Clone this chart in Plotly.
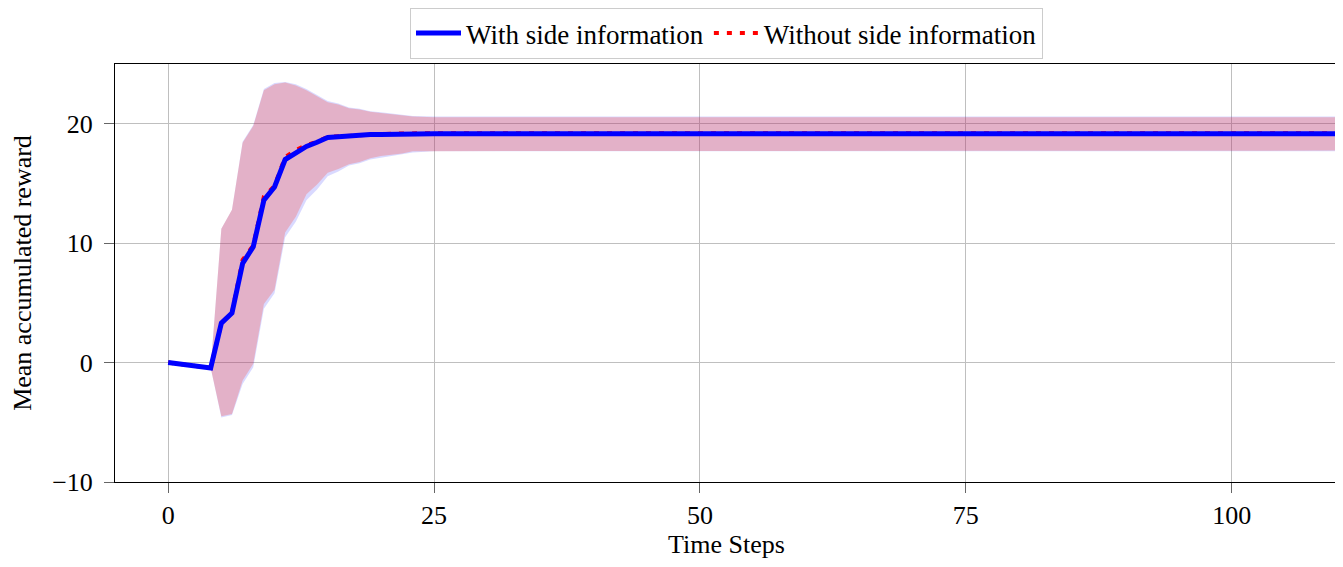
import plotly.graph_objects as go

# ---- data ----
time_steps = [0, 4, 5, 6, 7, 8, 9, 10, 11, 12, 13, 14, 15, 16, 17, 18, 19, 20, 21, 22, 23, 25, 30, 40, 50, 60, 70, 80, 90, 100, 110]

mean_with = [0, -0.45, 3.3, 4.15, 8.3, 9.7, 13.6, 14.7, 17.0, 17.6, 18.1, 18.45, 18.85, 18.9, 19.0, 19.05, 19.1, 19.1, 19.12, 19.14, 19.15, 19.15, 19.15, 19.15, 19.15, 19.15, 19.15, 19.15, 19.15, 19.15, 19.15]
upper_with = [0, -0.45, 11.2, 12.8, 18.5, 19.9, 22.9, 23.4, 23.5, 23.3, 22.9, 22.4, 21.9, 21.7, 21.35, 21.25, 21.05, 20.95, 20.85, 20.75, 20.65, 20.6, 20.6, 20.6, 20.6, 20.6, 20.6, 20.6, 20.6, 20.6, 20.6]
lower_with = [0, -0.45, -4.6, -4.4, -1.8, -0.4, 4.5, 5.8, 10.5, 11.8, 13.6, 14.5, 15.6, 16.0, 16.5, 16.7, 17.0, 17.2, 17.35, 17.45, 17.6, 17.7, 17.7, 17.7, 17.7, 17.7, 17.7, 17.7, 17.7, 17.7, 17.7]

mean_without = [0, -0.45, 3.3, 4.2, 8.6, 9.8, 13.9, 14.8, 17.2, 17.8, 18.2, 18.5, 18.9, 18.95, 19.05, 19.1, 19.15, 19.15, 19.17, 19.19, 19.2, 19.2, 19.2, 19.2, 19.2, 19.2, 19.2, 19.2, 19.2, 19.2, 19.2]
upper_without = [0, -0.45, 11.2, 12.8, 18.4, 19.8, 22.8, 23.3, 23.45, 23.2, 22.8, 22.3, 21.8, 21.6, 21.3, 21.2, 21.0, 20.9, 20.8, 20.7, 20.6, 20.55, 20.55, 20.55, 20.55, 20.55, 20.55, 20.55, 20.55, 20.55, 20.55]
lower_without = [0, -0.45, -4.5, -4.3, -1.5, -0.1, 4.9, 6.1, 10.9, 12.2, 14.1, 14.9, 15.9, 16.2, 16.6, 16.8, 17.1, 17.3, 17.4, 17.5, 17.7, 17.75, 17.75, 17.75, 17.75, 17.75, 17.75, 17.75, 17.75, 17.75, 17.75]

x_ticks = [0, 25, 50, 75, 100]
y_ticks = [-10, 0, 10, 20]
y_tick_text = ["\u221210", "0", "10", "20"]

FONT = "Liberation Serif"
FS = 26

fig = go.Figure()

# blue band
fig.add_trace(go.Scatter(
    x=time_steps + time_steps[::-1],
    y=upper_with + lower_with[::-1],
    fill="toself", fillcolor="rgba(0,0,255,0.15)",
    line=dict(width=0), mode="lines", hoverinfo="skip", showlegend=False))
# red band
fig.add_trace(go.Scatter(
    x=time_steps + time_steps[::-1],
    y=upper_without + lower_without[::-1],
    fill="toself", fillcolor="rgba(255,70,51,0.27)",
    line=dict(width=0), mode="lines", hoverinfo="skip", showlegend=False))

fig.add_trace(go.Scatter(
    x=time_steps, y=mean_without, mode="lines", name="Without side information",
    line=dict(color="red", width=4, dash="5px,8px"), legendrank=2))
fig.add_trace(go.Scatter(
    x=time_steps, y=mean_with, mode="lines", name="With side information",
    line=dict(color="blue", width=5), legendrank=1))

fig.update_layout(
    width=1335, height=551,
    margin=dict(l=107, r=5, t=56, b=77, autoexpand=False),
    paper_bgcolor="white", plot_bgcolor="white",
    font=dict(family=FONT, size=FS, color="black"),
    legend=dict(orientation="h", x=0.5, xanchor="center", y=1.134, yanchor="top",
                bordercolor="#cccccc", borderwidth=1,
                font=dict(family=FONT, size=27), itemwidth=45,
                tracegroupgap=0),
    showlegend=True,
)
fig.update_xaxes(
    range=[-5, 110], tickvals=x_ticks, ticks="outside", ticklen=10, tickcolor="#666",
    showgrid=True, gridcolor="#bfbfbf", gridwidth=1, automargin=False,
    showline=True, linecolor="black", linewidth=1, mirror=True, zeroline=False,
    title=dict(text="Time Steps", font=dict(family=FONT, size=FS), standoff=8),
    tickfont=dict(family=FONT, size=FS))
fig.update_yaxes(
    range=[-10, 25], tickvals=y_ticks, ticktext=y_tick_text, ticks="outside", ticklen=10,
    tickcolor="#666", ticklabelstandoff=6,
    showgrid=True, gridcolor="#bfbfbf", gridwidth=1, automargin=False,
    showline=True, linecolor="black", linewidth=1, mirror=True, zeroline=False,
    title=dict(text="Mean accumulated reward", font=dict(family=FONT, size=FS), standoff=18),
    tickfont=dict(family=FONT, size=FS))

fig.write_html("out.html")
